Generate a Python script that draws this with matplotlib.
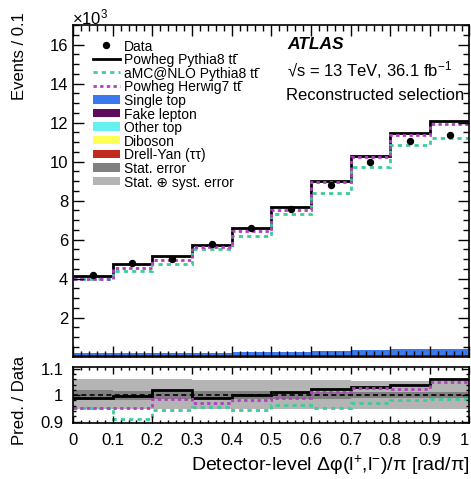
import numpy as np
import matplotlib
matplotlib.use("Agg")
import matplotlib.pyplot as plt
from matplotlib.patches import Rectangle
from matplotlib.ticker import MultipleLocator

plt.rcParams['font.family'] = ['Liberation Sans', 'DejaVu Sans']
plt.rcParams['mathtext.fontset'] = 'custom'
plt.rcParams['mathtext.rm'] = 'Liberation Sans'
plt.rcParams['mathtext.it'] = 'Liberation Sans:italic'
plt.rcParams['mathtext.bf'] = 'Liberation Sans:bold'

# bin edges of delta phi / pi
edges = [0.0, 0.1, 0.2, 0.3, 0.4, 0.5, 0.6, 0.7, 0.8, 0.9, 1.0]

# events per bin, in units of 10^3
data = [4.18, 4.80, 5.03, 5.80, 6.58, 7.57, 8.82, 9.99, 11.07, 11.38]
powheg_py8 = [4.14, 4.77, 5.16, 5.75, 6.60, 7.67, 9.02, 10.28, 11.49, 12.08]
amcnlo_py8 = [3.97, 4.37, 4.75, 5.54, 6.21, 7.30, 8.38, 9.70, 10.87, 11.20]
powheg_h7 = [3.98, 4.57, 4.96, 5.64, 6.46, 7.50, 8.93, 10.26, 11.34, 11.94]

# backgrounds (10^3)
drell_yan = [0.02, 0.02, 0.02, 0.02, 0.02, 0.02, 0.02, 0.02, 0.02, 0.02]
diboson = [0.01, 0.01, 0.01, 0.01, 0.01, 0.01, 0.01, 0.01, 0.01, 0.01]
other_top = [0.02, 0.02, 0.02, 0.02, 0.02, 0.02, 0.02, 0.02, 0.02, 0.02]
fake_lepton = [0.03, 0.03, 0.03, 0.03, 0.03, 0.03, 0.03, 0.03, 0.03, 0.03]
single_top = [0.11, 0.11, 0.12, 0.13, 0.16, 0.17, 0.22, 0.27, 0.32, 0.34]

# ratio panel
ratio_py8 = [0.988, 0.996, 1.021, 0.990, 1.002, 1.012, 1.024, 1.030, 1.037, 1.061]
ratio_amc = [0.950, 0.911, 0.944, 0.955, 0.944, 0.964, 0.950, 0.971, 0.982, 0.984]
ratio_h7 = [0.953, 0.953, 0.986, 0.972, 0.982, 0.991, 1.012, 1.027, 1.024, 1.049]
stat_err = [0.018, 0.017, 0.016, 0.015, 0.014, 0.013, 0.013, 0.012, 0.012, 0.012]
syst_up = [0.062, 0.062, 0.060, 0.058, 0.058, 0.057, 0.056, 0.055, 0.055, 0.055]
syst_dn = [0.052, 0.052, 0.052, 0.052, 0.052, 0.052, 0.052, 0.052, 0.052, 0.052]

legend_labels = ['Data', 'Powheg Pythia8 tt\u0304', 'aMC@NLO Pythia8 tt\u0304',
                 'Powheg Herwig7 tt\u0304', 'Single top', 'Fake lepton', 'Other top',
                 'Diboson', 'Drell-Yan (ττ)', 'Stat. error', 'Stat. ⊕ syst. error']
xtick_labels = ['0', '0.1', '0.2', '0.3', '0.4', '0.5', '0.6', '0.7', '0.8', '0.9', '1']

c_single = '#3a78ee'
c_fake = '#5e0b5e'
c_other = '#66f0f0'
c_dib = '#ffff55'
c_dy = '#c22b1f'
c_amc = '#3ccc99'
c_h7 = '#b040c0'
c_stat = '#808080'
c_syst = '#b4b4b4'
ls_amc = (0, (1.5, 1.5))
ls_h7 = (0, (1.2, 1.2))

edges = np.array(edges)
centers = 0.5 * (edges[1:] + edges[:-1])

fig = plt.figure(figsize=(4.71, 4.79), dpi=100)
ax = fig.add_axes([0.155, 0.2553, 0.8418, 0.6925])
rax = fig.add_axes([0.155, 0.1169, 0.8418, 0.1163])

# stacked backgrounds
base = np.zeros(len(data))
for vals, col in [(drell_yan, c_dy), (diboson, c_dib), (other_top, c_other),
                  (fake_lepton, c_fake), (single_top, c_single)]:
    top = base + np.array(vals)
    ax.stairs(top, edges, baseline=base.copy(), fill=True, color=col, lw=0)
    base = top

ax.stairs(powheg_py8, edges, baseline=None, color='black', lw=2.0)
ax.stairs(amcnlo_py8, edges, baseline=None, color=c_amc, lw=2.0, linestyle=ls_amc)
ax.stairs(powheg_h7, edges, baseline=None, color=c_h7, lw=2.0, linestyle=ls_h7)
ax.plot(centers, data, 'o', color='black', ms=4.3, zorder=5)

ax.set_xlim(0, 1)
ax.set_ylim(0.001, 17)
ax.set_yticks([2, 4, 6, 8, 10, 12, 14, 16])
ax.yaxis.set_minor_locator(MultipleLocator(0.5))
ax.xaxis.set_major_locator(MultipleLocator(0.1))
ax.xaxis.set_minor_locator(MultipleLocator(0.02))
ax.tick_params(which='both', direction='in', top=True, right=True, labelbottom=False, labelsize=12)
ax.tick_params(which='major', length=8, width=1)
ax.tick_params(which='minor', length=4, width=1)
for s in ax.spines.values():
    s.set_linewidth(1.2)

# legend drawn by hand, rows 13.6 px apart
ax_h = 331.7
hx0, hx1, tx = 0.0504, 0.1185, 0.1286
for i, lab in enumerate(legend_labels):
    y = (356.7 - (45 + i * 13.6)) / ax_h
    if i == 0:
        ax.plot([(hx0 + hx1) / 2], [y], 'o', color='black', ms=4.3, transform=ax.transAxes)
    elif i == 1:
        ax.plot([hx0, hx1], [y, y], color='black', lw=2, transform=ax.transAxes)
    elif i == 2:
        ax.plot([hx0, hx1], [y, y], color=c_amc, lw=2, ls=ls_amc, transform=ax.transAxes)
    elif i == 3:
        ax.plot([hx0, hx1], [y, y], color=c_h7, lw=2, ls=ls_h7, transform=ax.transAxes)
    else:
        col = [c_single, c_fake, c_other, c_dib, c_dy, c_stat, c_syst][i - 4]
        h = 8.5 / ax_h
        ax.add_patch(Rectangle((hx0, y - h / 2), hx1 - hx0, h, color=col, lw=0,
                               transform=ax.transAxes))
    ax.text(tx, y, lab, transform=ax.transAxes, fontsize=10, va='center_baseline')

ax.text(0.54, 0.94, 'ATLAS', transform=ax.transAxes, fontsize=12.5, fontweight='bold',
        fontstyle='italic', va='center')
ax.text(0.54, 0.864, '√s = 13 TeV, 36.1 fb$^{-1}$', transform=ax.transAxes,
        fontsize=12, va='center')
ax.text(0.537, 0.786, 'Reconstructed selection', transform=ax.transAxes,
        fontsize=12, va='center')

fig.text(0.042, 0.975, 'Events / 0.1', rotation=90, ha='center', va='top', fontsize=12)
fig.text(0.153, 0.963, r'×10$^{3}$', ha='left', va='center', fontsize=12)

# ratio panel
rax.stairs(1 + np.array(syst_up), edges, baseline=1 - np.array(syst_dn),
           fill=True, color=c_syst, lw=0)
rax.stairs(1 + np.array(stat_err), edges, baseline=1 - np.array(stat_err),
           fill=True, color=c_stat, lw=0)
rax.axhline(1.0, color='black', lw=1.2, ls=(0, (3, 2)))
rax.stairs(ratio_py8, edges, baseline=None, color='black', lw=2.0)
rax.stairs(ratio_amc, edges, baseline=None, color=c_amc, lw=2.0, linestyle=ls_amc)
rax.stairs(ratio_h7, edges, baseline=None, color=c_h7, lw=2.0, linestyle=ls_h7)

rax.set_xlim(0, 1)
rax.set_ylim(0.895, 1.105)
rax.set_yticks([0.9, 1.0, 1.1])
rax.set_yticklabels(['0.9', '1', '1.1'])
rax.yaxis.set_minor_locator(MultipleLocator(0.02))
rax.xaxis.set_minor_locator(MultipleLocator(0.02))
rax.set_xticks(edges)
rax.set_xticklabels(xtick_labels)
rax.get_xticklabels()[-1].set_horizontalalignment('right')
rax.tick_params(which='both', direction='in', top=True, right=True, labelsize=12, pad=7)
rax.tick_params(which='major', length=5, width=1)
rax.tick_params(which='minor', length=2.5, width=1)
for s in rax.spines.values():
    s.set_linewidth(1.2)

fig.text(0.042, 0.165, 'Pred. / Data', rotation=90, ha='center', va='center', fontsize=12)
fig.text(0.997, 0.029, r'Detector-level Δφ(l$^{+}$,l$^{-}$)/π [rad/π]', ha='right',
         va='center', fontsize=14)

fig.savefig('out.png', dpi=100)
